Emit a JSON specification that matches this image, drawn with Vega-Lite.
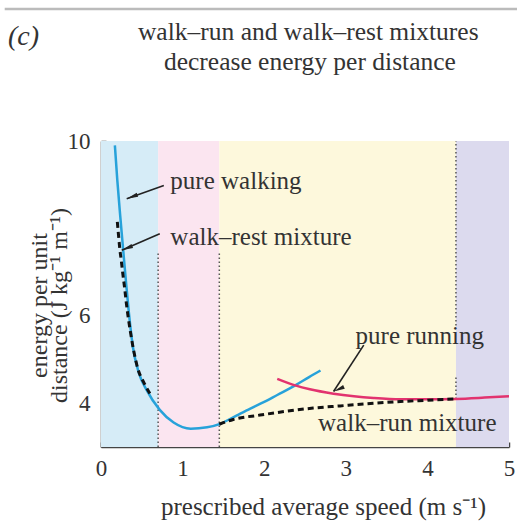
{
  "$schema": "https://vega.github.io/schema/vega-lite/v6.json",
  "width": 408,
  "height": 306,
  "autosize": {"type": "none"},
  "padding": {"left": 101, "top": 141, "right": 8, "bottom": 76},
  "background": "white",
  "config": {
    "view": {"stroke": null},
    "font": "Liberation Serif",
    "axis": {"grid": false}
  },
  "datasets": {
    "bands": [
      {"zone": "walk-rest", "start": 0, "end": 0.7},
      {"zone": "walk", "start": 0.7, "end": 1.45},
      {"zone": "walk-run", "start": 1.45, "end": 4.35},
      {"zone": "run", "start": 4.35, "end": 5}
    ],
    "dividers": [
      {"speed": 0.7, "lo": 3, "hi": 7.45},
      {"speed": 1.45, "lo": 3, "hi": 7.45},
      {"speed": 4.35, "lo": 4.1, "hi": 4.64},
      {"speed": 4.35, "lo": 5.78, "hi": 10}
    ],
    "curves": [
      {"series": "pure walking", "speed": 0.17, "energy": 9.9},
      {"series": "pure walking", "speed": 0.2, "energy": 9.1},
      {"series": "pure walking", "speed": 0.235, "energy": 8.3},
      {"series": "pure walking", "speed": 0.27, "energy": 7.55},
      {"series": "pure walking", "speed": 0.305, "energy": 6.8},
      {"series": "pure walking", "speed": 0.34, "energy": 6.1},
      {"series": "pure walking", "speed": 0.39, "energy": 5.3},
      {"series": "pure walking", "speed": 0.46, "energy": 4.72},
      {"series": "pure walking", "speed": 0.56, "energy": 4.3},
      {"series": "pure walking", "speed": 0.72, "energy": 3.85},
      {"series": "pure walking", "speed": 0.89, "energy": 3.56},
      {"series": "pure walking", "speed": 1.1, "energy": 3.42},
      {"series": "pure walking", "speed": 1.3, "energy": 3.45},
      {"series": "pure walking", "speed": 1.46, "energy": 3.53},
      {"series": "pure walking", "speed": 1.66, "energy": 3.72},
      {"series": "pure walking", "speed": 1.83, "energy": 3.88},
      {"series": "pure walking", "speed": 2.0, "energy": 4.03},
      {"series": "pure walking", "speed": 2.16, "energy": 4.19},
      {"series": "pure walking", "speed": 2.38, "energy": 4.41},
      {"series": "pure walking", "speed": 2.55, "energy": 4.6},
      {"series": "pure walking", "speed": 2.69, "energy": 4.75},
      {"series": "pure running", "speed": 2.16, "energy": 4.56},
      {"series": "pure running", "speed": 2.38, "energy": 4.41},
      {"series": "pure running", "speed": 2.56, "energy": 4.32},
      {"series": "pure running", "speed": 2.85, "energy": 4.22},
      {"series": "pure running", "speed": 3.1, "energy": 4.16},
      {"series": "pure running", "speed": 3.34, "energy": 4.12},
      {"series": "pure running", "speed": 3.67, "energy": 4.09},
      {"series": "pure running", "speed": 4.0, "energy": 4.09},
      {"series": "pure running", "speed": 4.35, "energy": 4.1},
      {"series": "pure running", "speed": 4.7, "energy": 4.13},
      {"series": "pure running", "speed": 5.0, "energy": 4.16},
      {"series": "walk-rest mixture", "speed": 0.2, "energy": 8.15},
      {"series": "walk-rest mixture", "speed": 0.215, "energy": 7.84},
      {"series": "walk-rest mixture", "speed": 0.23, "energy": 7.54},
      {"series": "walk-rest mixture", "speed": 0.25, "energy": 7.24},
      {"series": "walk-rest mixture", "speed": 0.27, "energy": 6.92},
      {"series": "walk-rest mixture", "speed": 0.29, "energy": 6.63},
      {"series": "walk-rest mixture", "speed": 0.31, "energy": 6.3},
      {"series": "walk-rest mixture", "speed": 0.36, "energy": 5.64},
      {"series": "walk-rest mixture", "speed": 0.44, "energy": 4.87},
      {"series": "walk-rest mixture", "speed": 0.54, "energy": 4.42},
      {"series": "walk-rest mixture", "speed": 0.6, "energy": 4.22},
      {"series": "walk-run mixture", "speed": 1.45, "energy": 3.52},
      {"series": "walk-run mixture", "speed": 1.62, "energy": 3.63},
      {"series": "walk-run mixture", "speed": 1.95, "energy": 3.73},
      {"series": "walk-run mixture", "speed": 2.28, "energy": 3.82},
      {"series": "walk-run mixture", "speed": 2.6, "energy": 3.89},
      {"series": "walk-run mixture", "speed": 2.93, "energy": 3.94},
      {"series": "walk-run mixture", "speed": 3.34, "energy": 4.0},
      {"series": "walk-run mixture", "speed": 3.67, "energy": 4.04},
      {"series": "walk-run mixture", "speed": 4.0, "energy": 4.07},
      {"series": "walk-run mixture", "speed": 4.35, "energy": 4.1}
    ],
    "labels": [
      {"text": "pure walking", "speed": 0.85, "energy": 9.09},
      {"text": "walk–rest mixture", "speed": 0.85, "energy": 7.81},
      {"text": "pure running", "speed": 3.12, "energy": 5.55},
      {"text": "walk–run mixture", "speed": 2.66, "energy": 3.54}
    ],
    "titles": [
      {"text": "walk–run and walk–rest mixtures", "speed": 2.54, "energy": 12.49},
      {"text": "decrease energy per distance", "speed": 2.56, "energy": 11.8}
    ],
    "arrows": [
      {"id": "walking", "x1": 0.77, "y1": 8.98, "x2": 0.315, "y2": 8.68},
      {"id": "walkrest", "x1": 0.72, "y1": 7.88, "x2": 0.254, "y2": 7.5},
      {"id": "running", "x1": 3.22, "y1": 5.33, "x2": 2.85, "y2": 4.27}
    ],
    "frame": [{"x1": -1.18, "x2": 5.1, "y": 13.02, "tag": "(c)", "tx": -1.14, "ty": 12.38}]
  },
  "layer": [
    {
      "data": {"name": "bands"},
      "mark": {"type": "rect"},
      "encoding": {
        "x": {"field": "start", "type": "quantitative",
          "scale": {"domain": [0, 5], "nice": false, "zero": false},
          "axis": {
            "values": [0, 1, 2, 3, 4, 5],
            "format": "d",
            "title": "prescribed average speed (m s⁻¹)",
            "titleFont": "Liberation Serif",
            "titleFontSize": 25,
            "titleFontWeight": "normal",
            "titleColor": "#333333",
            "titlePadding": 14,
            "titleX": 222,
            "labelFont": "Liberation Serif",
            "labelFontSize": 23,
            "labelColor": "#333333",
            "labelPadding": 15,
            "labelFlush": false,
            "domainColor": "#444444",
            "domainWidth": 1.5,
            "tickColor": "#444444",
            "tickWidth": 1.5,
            "tickSize": -5
          }
        },
        "x2": {"field": "end"},
        "color": {"field": "zone", "type": "nominal",
          "scale": {"domain": ["walk-rest", "walk", "walk-run", "run"],
                    "range": ["#d6ecf7", "#fbe5f0", "#fdf8dc", "#dcdaee"]},
          "legend": null}
      }
    },
    {
      "data": {"name": "dividers"},
      "mark": {"type": "rule", "color": "#555555", "strokeWidth": 1.5, "strokeDash": [1.5, 2.5]},
      "encoding": {
        "x": {"field": "speed", "type": "quantitative"},
        "y": {"field": "lo", "type": "quantitative",
          "scale": {"domain": [3, 10], "nice": false, "zero": false},
          "axis": {
            "values": [4, 6, 8, 10],
            "labelExpr": "datum.value == 8 ? '' : datum.label",
            "title": ["energy per unit", "distance (J kg⁻¹ m⁻¹)"],
            "titleFont": "Liberation Serif",
            "titleFontSize": 24,
            "titleFontWeight": "normal",
            "titleColor": "#333333",
            "titleLineHeight": 20,
            "titleX": -50,
            "titleY": 164,
            "titleAngle": -90,
            "titleAlign": "center",
            "titleBaseline": "bottom",
            "labelFont": "Liberation Serif",
            "labelFontSize": 23,
            "labelColor": "#333333",
            "labelPadding": 16,
            "labelFlush": false,
            "domainColor": "#444444",
            "domainWidth": 1.5,
            "tickColor": "#444444",
            "tickWidth": 1.5,
            "tickSize": -5
          }
        },
        "y2": {"field": "hi"}
      }
    },
    {
      "data": {"name": "curves"},
      "transform": [{"filter": "datum.series == 'pure walking'"}],
      "mark": {"type": "line", "color": "#27a2da", "strokeWidth": 2.5, "interpolate": "monotone"},
      "encoding": {
        "x": {"field": "speed", "type": "quantitative"},
        "y": {"field": "energy", "type": "quantitative"}
      }
    },
    {
      "data": {"name": "curves"},
      "transform": [{"filter": "datum.series == 'pure running'"}],
      "mark": {"type": "line", "color": "#e2336f", "strokeWidth": 2.5, "interpolate": "monotone"},
      "encoding": {
        "x": {"field": "speed", "type": "quantitative"},
        "y": {"field": "energy", "type": "quantitative"}
      }
    },
    {
      "data": {"name": "curves"},
      "transform": [{"filter": "datum.series == 'walk-rest mixture' || datum.series == 'walk-run mixture'"}],
      "mark": {"type": "line", "color": "#111111", "strokeWidth": 3, "strokeDash": [6, 4], "interpolate": "monotone"},
      "encoding": {
        "x": {"field": "speed", "type": "quantitative"},
        "y": {"field": "energy", "type": "quantitative"},
        "detail": {"field": "series", "type": "nominal"}
      }
    },
    {
      "data": {"name": "arrows"},
      "mark": {"type": "rule", "color": "#222222", "strokeWidth": 1.6},
      "encoding": {
        "x": {"field": "x1", "type": "quantitative"},
        "y": {"field": "y1", "type": "quantitative"},
        "x2": {"field": "x2"},
        "y2": {"field": "y2"}
      }
    },
    {
      "data": {"name": "arrows"},
      "mark": {"type": "point", "shape": "M0,0L0.36,2L-0.36,2Z", "filled": true, "color": "#222222", "size": 130, "opacity": 1},
      "encoding": {
        "x": {"field": "x2", "type": "quantitative"},
        "y": {"field": "y2", "type": "quantitative"},
        "angle": {"field": "id", "type": "nominal",
          "scale": {"domain": ["walking", "walkrest", "running"], "range": [250, 246, 213]},
          "legend": null}
      }
    },
    {
      "data": {"name": "labels"},
      "mark": {"type": "text", "align": "left", "baseline": "middle", "font": "Liberation Serif", "fontSize": 25, "color": "#333333"},
      "encoding": {
        "x": {"field": "speed", "type": "quantitative"},
        "y": {"field": "energy", "type": "quantitative"},
        "text": {"field": "text"}
      }
    },
    {
      "data": {"name": "titles"},
      "mark": {"type": "text", "align": "center", "baseline": "middle", "font": "Liberation Serif", "fontSize": 25.5, "color": "#333333"},
      "encoding": {
        "x": {"field": "speed", "type": "quantitative"},
        "y": {"field": "energy", "type": "quantitative"},
        "text": {"field": "text"}
      }
    },
    {
      "data": {"name": "frame"},
      "mark": {"type": "rule", "color": "#bbbbbb", "strokeWidth": 2.5},
      "encoding": {
        "x": {"field": "x1", "type": "quantitative"},
        "x2": {"field": "x2"},
        "y": {"field": "y", "type": "quantitative"}
      }
    },
    {
      "data": {"name": "frame"},
      "mark": {"type": "text", "align": "left", "baseline": "middle", "font": "Liberation Serif", "fontSize": 28, "fontStyle": "italic", "color": "#333333"},
      "encoding": {
        "x": {"field": "tx", "type": "quantitative"},
        "y": {"field": "ty", "type": "quantitative"},
        "text": {"field": "tag"}
      }
    }
  ]
}
